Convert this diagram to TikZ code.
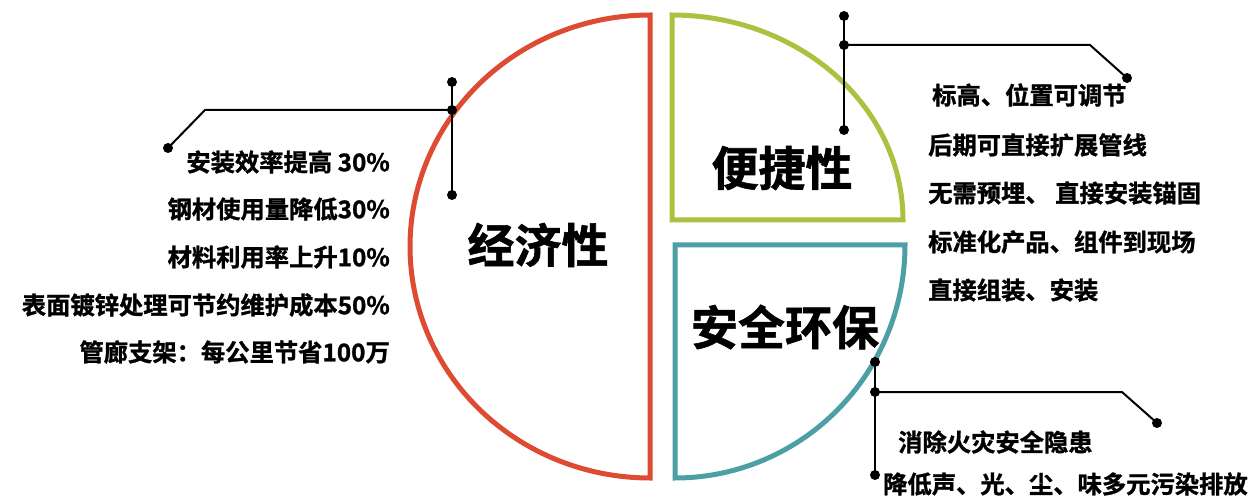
\documentclass[tikz,border=0pt]{standalone}
\usepackage{fontspec}
\setmainfont{Noto Sans CJK SC}[BoldFont={Noto Sans CJK SC Bold}]
\newfontfamily\heavycjk{Noto Sans CJK SC Bold}[FakeBold=1.2]
\definecolor{redc}{HTML}{DE4B33}
\definecolor{greenc}{HTML}{A9C23F}
\definecolor{bluec}{HTML}{4D9FA6}
\begin{document}
\begin{tikzpicture}[x=1pt,y=-1pt,
  shapeline/.style={line width=5pt, line join=miter},
  conn/.style={line width=2pt, black},
  dotnode/.style={circle, fill=black, inner sep=0pt, minimum size=10pt},
  item/.style={inner sep=0pt, font=\fontsize{24.3}{28}\selectfont\heavycjk},
  big/.style={inner sep=0pt, font=\fontsize{47}{52}\selectfont\heavycjk}]
\useasboundingbox (0,0) rectangle (1253,497);
% shapes
\draw[shapeline, redc] plot[domain=90:270, samples=80, smooth] ({650+240*cos(\x)},{246.5+231.5*sin(\x)}) -- cycle;
\draw[shapeline, greenc] (672,220) -- plot[domain=90:0, samples=60, smooth] ({672+231*cos(\x)},{220-205*sin(\x)}) -- cycle;
\draw[shapeline, bluec] (675,245) -- plot[domain=0:90, samples=60, smooth] ({675+230*cos(\x)},{245+233*sin(\x)}) -- cycle;
% big labels
\node[big] (econ) at (538,245) {经济性};
\node[big] (conv) at (782,168) {便捷性};
\node[big] (safe) at (785,327) {安全环保};
% left callout
\node[dotnode] (L1) at (452,82) {};
\node[dotnode] (L2) at (452,110) {};
\node[dotnode] (L3) at (452,195) {};
\node[dotnode] (L4) at (168,148) {};
\coordinate (Lb) at (205,110);
\draw[conn] (L1.center) -- (L3.center);
\draw[conn] (L2.center) -- (Lb) -- (L4.center);
% green callout
\node[dotnode] (G1) at (844,16) {};
\node[dotnode] (G2) at (844,45) {};
\node[dotnode] (G3) at (844,130) {};
\node[dotnode] (G4) at (1127,78) {};
\coordinate (Gb) at (1090,45);
\draw[conn] (G1.center) -- (G3.center);
\draw[conn] (G2.center) -- (Gb) -- (G4.center);
% blue callout
\node[dotnode] (B1) at (875,362) {};
\node[dotnode] (B2) at (875,392) {};
\node[dotnode] (B3) at (875,475) {};
\node[dotnode] (B4) at (1157,423) {};
\coordinate (Bb) at (1122,392);
\draw[conn] (B1.center) -- (B3.center);
\draw[conn] (B2.center) -- (Bb) -- (B4.center);
% left list
\node[item, anchor=east] (l1) at (390,162) {安装效率提高 30\%};
\node[item, anchor=east] (l2) at (390,209) {钢材使用量降低30\%};
\node[item, anchor=east] (l3) at (390,257) {材料利用率上升10\%};
\node[item, anchor=east] (l4) at (390,305) {表面镀锌处理可节约维护成本50\%};
\node[item, anchor=east] (l5) at (390,352) {管廊支架：每公里节省100万};
% green list
\node[item, anchor=west] (g1) at (932,95) {标高、位置可调节};
\node[item, anchor=west] (g2) at (928,145) {后期可直接扩展管线};
\node[item, anchor=west] (g3) at (928,193) {无需预埋、\ 直接安装锚固};
\node[item, anchor=west] (g4) at (928,242) {标准化产品、组件到现场};
\node[item, anchor=west] (g5) at (928,290) {直接组装、安装};
% blue list
\node[item, anchor=west] (b1) at (898,442) {消除火灾安全隐患};
\node[item, anchor=west] (b2) at (883,484) {降低声、光、尘、味多元污染排放};
\end{tikzpicture}
\end{document}
